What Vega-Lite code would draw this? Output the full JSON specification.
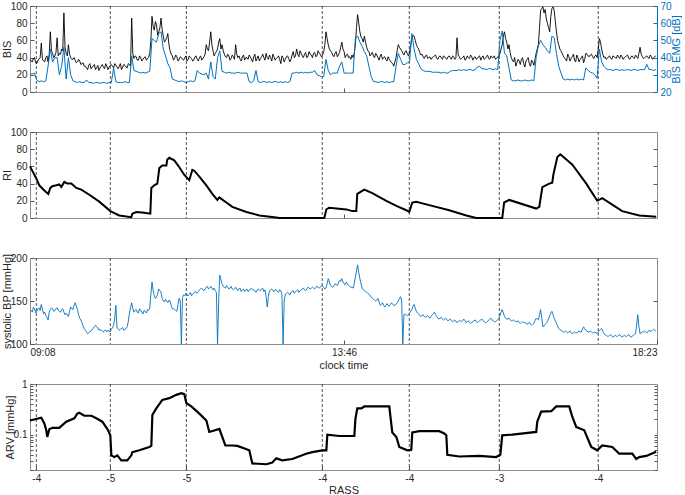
{
"$schema":"https://vega.github.io/schema/vega-lite/v6.json",
"padding":{"left":0,"top":0,"right":0,"bottom":0},
"background":"white",
"config":{
 "font":"Liberation Sans",
 "view":{"stroke":"#8c8c8c","strokeWidth":1},
 "axis":{"labelFont":"Liberation Sans","labelFontSize":10,"labelColor":"#262626","titleFont":"Liberation Sans","titleFontSize":11,"titleFontWeight":"normal","titleColor":"#262626","domain":false,"grid":false,"tickColor":"#555555","tickSize":-4,"labelPadding":7,"labelOverlap":false},
 "axisX":{"titlePadding":1},
 "axisY":{"titlePadding":-2}
},
"datasets":{
"rass":[{"t":5.6,"r":-4},{"t":71.1,"r":-5},{"t":138.4,"r":-5},{"t":258.7,"r":-4},{"t":335.7,"r":-4},{"t":415.4,"r":-3},{"t":503,"r":-4}],
"s":[
{"t":0,"b":38,"e":30.5,"p":140},{"t":2,"b":35,"e":30.5,"p":137},{"t":4,"b":40,"e":31,"p":141},{"t":6,"b":33,"e":27,"p":138},{"t":8,"b":38,"e":26,"p":142},{"t":10,"b":57,"e":26.5,"p":146},{"t":12,"b":36,"e":26,"p":135},{"t":14,"b":40,"e":26.5,"p":133},{"t":16,"b":35,"e":35,"p":128},{"t":18,"b":70,"e":45,"p":140},
{"t":20,"b":45,"e":37.5,"p":141},{"t":22,"b":42,"e":40,"p":139},{"t":24,"b":63,"e":40,"p":142},{"t":26,"b":45,"e":30,"p":138},{"t":28,"b":50,"e":35,"p":140},{"t":30,"b":92,"e":46,"p":137},{"t":32,"b":45,"e":27.5,"p":136},{"t":34,"b":55,"e":40,"p":132},{"t":36,"b":40,"e":30,"p":143},{"t":38,"b":38,"e":26.5,"p":140},
{"t":40,"b":37,"e":26,"p":148},{"t":42,"b":35,"e":25.5,"p":140},{"t":44,"b":36,"e":26,"p":130},{"t":46,"b":33,"e":25.5,"p":125},{"t":48,"b":30,"e":25.5,"p":118},{"t":50,"b":28,"e":27,"p":114},{"t":52,"b":31,"e":25.5,"p":113},{"t":54,"b":27,"e":25.5,"p":115},{"t":56,"b":30,"e":25,"p":118},{"t":58,"b":26,"e":25.5,"p":122},
{"t":60,"b":31,"e":25.5,"p":119},{"t":62,"b":28,"e":25,"p":117},{"t":64,"b":32,"e":25.5,"p":115},{"t":66,"b":27,"e":25.5,"p":116},{"t":68,"b":30,"e":25,"p":114},{"t":70,"b":29,"e":25.5,"p":115},{"t":72,"b":32,"e":25.5,"p":117},{"t":74,"b":28,"e":34,"p":122},{"t":76,"b":31,"e":26,"p":145},{"t":78,"b":27,"e":25.5,"p":118},
{"t":80,"b":33,"e":25.5,"p":117},{"t":82,"b":29,"e":25.5,"p":119},{"t":84,"b":31,"e":26,"p":117},{"t":86,"b":28,"e":25.5,"p":120},{"t":88,"b":32,"e":25.5,"p":136},{"t":90,"b":86,"e":41,"p":148},{"t":92,"b":39,"e":32.5,"p":137},{"t":94,"b":41,"e":32,"p":140},{"t":96,"b":37,"e":31.5,"p":136},{"t":98,"b":40,"e":31,"p":139},
{"t":100,"b":38,"e":31.5,"p":135},{"t":102,"b":41,"e":31,"p":138},{"t":104,"b":39,"e":31.5,"p":140},{"t":106,"b":45,"e":32,"p":142},{"t":108,"b":88,"e":51,"p":172},{"t":110,"b":72,"e":50,"p":156},{"t":112,"b":78,"e":49,"p":155},{"t":114,"b":70,"e":54,"p":164},{"t":116,"b":86,"e":55,"p":160},{"t":118,"b":65,"e":45,"p":150},
{"t":120,"b":60,"e":41,"p":152},{"t":122,"b":68,"e":36.5,"p":148},{"t":124,"b":48,"e":34,"p":150},{"t":126,"b":42,"e":27.5,"p":141},{"t":128,"b":39,"e":27,"p":140},{"t":130,"b":41,"e":26.5,"p":138},{"t":132,"b":38,"e":26,"p":153},{"t":134,"b":40,"e":26.5,"p":100},{"t":136,"b":37,"e":26,"p":157},{"t":138,"b":42,"e":25.5,"p":159},
{"t":140,"b":38,"e":26,"p":156},{"t":142,"b":40,"e":26.5,"p":160},{"t":144,"b":36,"e":26,"p":158},{"t":146,"b":41,"e":26.5,"p":161},{"t":148,"b":38,"e":32.5,"p":159},{"t":150,"b":40,"e":31,"p":163},{"t":152,"b":37,"e":30.5,"p":165},{"t":154,"b":41,"e":30,"p":162},{"t":156,"b":55,"e":31,"p":166},{"t":158,"b":48,"e":27.5,"p":164},
{"t":160,"b":70,"e":37.5,"p":167},{"t":162,"b":48,"e":29,"p":163},{"t":164,"b":45,"e":27.5,"p":162},{"t":166,"b":50,"e":40,"p":100},{"t":168,"b":62,"e":44,"p":180},{"t":170,"b":55,"e":32,"p":170},{"t":172,"b":44,"e":31.5,"p":166},{"t":174,"b":40,"e":31,"p":168},{"t":176,"b":42,"e":31.5,"p":164},{"t":178,"b":39,"e":31,"p":167},
{"t":180,"b":41,"e":31,"p":163},{"t":182,"b":55,"e":31,"p":166},{"t":184,"b":40,"e":31.5,"p":162},{"t":186,"b":38,"e":31,"p":165},{"t":188,"b":41,"e":31,"p":163},{"t":190,"b":37,"e":31,"p":161},{"t":192,"b":40,"e":31,"p":164},{"t":194,"b":43,"e":26,"p":162},{"t":196,"b":38,"e":25.5,"p":165},{"t":198,"b":41,"e":26.5,"p":163},
{"t":200,"b":36,"e":32.5,"p":160},{"t":202,"b":42,"e":26,"p":164},{"t":204,"b":39,"e":25.5,"p":162},{"t":206,"b":44,"e":26,"p":165},{"t":208,"b":37,"e":26,"p":163},{"t":210,"b":40,"e":25.5,"p":143},{"t":212,"b":43,"e":26,"p":162},{"t":214,"b":36,"e":25.5,"p":164},{"t":216,"b":41,"e":26,"p":161},{"t":218,"b":39,"e":26,"p":163},
{"t":220,"b":42,"e":25.5,"p":160},{"t":222,"b":33,"e":26,"p":162},{"t":224,"b":40,"e":25.5,"p":100},{"t":226,"b":38,"e":26,"p":158},{"t":228,"b":42,"e":25.5,"p":160},{"t":230,"b":35,"e":26,"p":157},{"t":232,"b":43,"e":31,"p":161},{"t":234,"b":40,"e":31,"p":159},{"t":236,"b":50,"e":31.5,"p":162},{"t":238,"b":41,"e":31,"p":160},
{"t":240,"b":45,"e":31.5,"p":163},{"t":242,"b":40,"e":31,"p":165},{"t":244,"b":46,"e":31.5,"p":162},{"t":246,"b":41,"e":31,"p":166},{"t":248,"b":44,"e":31.5,"p":164},{"t":250,"b":40,"e":31.5,"p":166},{"t":252,"b":46,"e":32.5,"p":164},{"t":254,"b":42,"e":30,"p":167},{"t":256,"b":45,"e":29.5,"p":165},{"t":258,"b":41,"e":29,"p":168},
{"t":260,"b":47,"e":29,"p":166},{"t":262,"b":70,"e":39,"p":165},{"t":264,"b":55,"e":32.5,"p":176},{"t":266,"b":48,"e":30,"p":168},{"t":268,"b":43,"e":31,"p":166},{"t":270,"b":45,"e":31,"p":170},{"t":272,"b":41,"e":31,"p":168},{"t":274,"b":46,"e":35,"p":174},{"t":276,"b":58,"e":37.5,"p":176},{"t":278,"b":47,"e":31,"p":170},
{"t":280,"b":43,"e":31,"p":172},{"t":282,"b":40,"e":31,"p":168},{"t":284,"b":38,"e":31,"p":166},{"t":286,"b":40,"e":31,"p":165},{"t":288,"b":55,"e":51,"p":178},{"t":290,"b":90,"e":52.5,"p":192},{"t":292,"b":70,"e":49,"p":176},{"t":294,"b":62,"e":46.5,"p":165},{"t":296,"b":65,"e":43.5,"p":162},{"t":298,"b":52,"e":41,"p":160},
{"t":300,"b":47,"e":35,"p":158},{"t":302,"b":44,"e":29,"p":155},{"t":304,"b":42,"e":26,"p":152},{"t":306,"b":45,"e":26,"p":150},{"t":308,"b":40,"e":25.5,"p":153},{"t":310,"b":42,"e":26,"p":145},{"t":312,"b":38,"e":26,"p":148},{"t":314,"b":41,"e":25.5,"p":143},{"t":316,"b":36,"e":26,"p":147},{"t":318,"b":38,"e":25.5,"p":144},
{"t":320,"b":34,"e":26,"p":148},{"t":322,"b":30,"e":26,"p":145},{"t":324,"b":40,"e":35,"p":146},{"t":326,"b":55,"e":42.5,"p":150},{"t":328,"b":50,"e":39,"p":155},{"t":330,"b":45,"e":36,"p":100},{"t":332,"b":47,"e":36,"p":135},{"t":334,"b":44,"e":37,"p":133},{"t":336,"b":46,"e":37.5,"p":136},{"t":338,"b":62,"e":54,"p":140},
{"t":340,"b":65,"e":45,"p":146},{"t":342,"b":55,"e":39,"p":138},{"t":344,"b":50,"e":36.5,"p":135},{"t":346,"b":43,"e":33.5,"p":132},{"t":348,"b":41,"e":32.5,"p":134},{"t":350,"b":42,"e":32,"p":131},{"t":352,"b":39,"e":32,"p":133},{"t":354,"b":41,"e":32,"p":130},{"t":356,"b":40,"e":31.5,"p":134},{"t":358,"b":42,"e":31.5,"p":137},
{"t":360,"b":39,"e":31.5,"p":132},{"t":362,"b":41,"e":31.5,"p":129},{"t":364,"b":40,"e":31,"p":131},{"t":366,"b":42,"e":31.5,"p":128},{"t":368,"b":39,"e":31,"p":130},{"t":370,"b":41,"e":31,"p":127},{"t":372,"b":40,"e":32,"p":129},{"t":374,"b":42,"e":32.5,"p":126},{"t":376,"b":38,"e":32.5,"p":128},{"t":378,"b":63,"e":32.5,"p":125},
{"t":380,"b":41,"e":33,"p":127},{"t":382,"b":39,"e":32.5,"p":126},{"t":384,"b":42,"e":33,"p":129},{"t":386,"b":38,"e":32.5,"p":125},{"t":388,"b":40,"e":33,"p":127},{"t":390,"b":43,"e":33,"p":124},{"t":392,"b":37,"e":32.5,"p":126},{"t":394,"b":41,"e":33,"p":128},{"t":396,"b":39,"e":34.5,"p":125},{"t":398,"b":42,"e":35,"p":127},
{"t":400,"b":40,"e":33.5,"p":129},{"t":402,"b":38,"e":33.5,"p":126},{"t":404,"b":41,"e":33,"p":125},{"t":406,"b":39,"e":33.5,"p":128},{"t":408,"b":42,"e":33.5,"p":130},{"t":410,"b":40,"e":33,"p":127},{"t":412,"b":38,"e":33.5,"p":126},{"t":414,"b":41,"e":33,"p":128},{"t":416,"b":45,"e":50,"p":133},{"t":418,"b":55,"e":55.5,"p":140},
{"t":420,"b":70,"e":42.5,"p":132},{"t":422,"b":58,"e":41,"p":129},{"t":424,"b":55,"e":34,"p":130},{"t":426,"b":40,"e":27,"p":127},{"t":428,"b":35,"e":26.5,"p":128},{"t":430,"b":30,"e":26.5,"p":126},{"t":432,"b":38,"e":27,"p":127},{"t":434,"b":32,"e":26.5,"p":124},{"t":436,"b":40,"e":26.5,"p":126},{"t":438,"b":29,"e":27,"p":125},
{"t":440,"b":38,"e":26.5,"p":123},{"t":442,"b":33,"e":26.5,"p":125},{"t":444,"b":37,"e":27,"p":122},{"t":446,"b":31,"e":26.5,"p":124},{"t":448,"b":45,"e":40,"p":130},{"t":450,"b":55,"e":47,"p":128},{"t":452,"b":95,"e":50,"p":140},{"t":454,"b":99,"e":47.5,"p":120},{"t":456,"b":96,"e":46,"p":123},{"t":458,"b":80,"e":44,"p":126},
{"t":460,"b":70,"e":42.5,"p":133},{"t":462,"b":97,"e":52.5,"p":138},{"t":464,"b":95,"e":51.5,"p":130},{"t":466,"b":70,"e":42.5,"p":124},{"t":468,"b":55,"e":35,"p":118},{"t":470,"b":48,"e":31,"p":116},{"t":472,"b":42,"e":27.5,"p":114},{"t":474,"b":38,"e":27,"p":115},{"t":476,"b":44,"e":27.5,"p":113},{"t":478,"b":36,"e":27,"p":115},
{"t":480,"b":41,"e":27.5,"p":112},{"t":482,"b":37,"e":27,"p":114},{"t":484,"b":43,"e":27.5,"p":113},{"t":486,"b":35,"e":27,"p":115},{"t":488,"b":40,"e":27.5,"p":114},{"t":490,"b":34,"e":27,"p":120},{"t":492,"b":45,"e":34,"p":116},{"t":494,"b":42,"e":32.5,"p":114},{"t":496,"b":43,"e":31.5,"p":115},{"t":498,"b":41,"e":31,"p":113},
{"t":500,"b":42,"e":30,"p":114},{"t":502,"b":40,"e":28,"p":112},{"t":504,"b":62,"e":45,"p":116},{"t":506,"b":50,"e":37.5,"p":118},{"t":508,"b":40,"e":35,"p":112},{"t":510,"b":38,"e":33.5,"p":110},{"t":512,"b":41,"e":33,"p":109},{"t":514,"b":39,"e":33,"p":111},{"t":516,"b":42,"e":32.5,"p":108},{"t":518,"b":40,"e":33,"p":110},
{"t":520,"b":43,"e":33,"p":109},{"t":522,"b":39,"e":32.5,"p":111},{"t":524,"b":41,"e":33,"p":108},{"t":526,"b":40,"e":32.5,"p":110},{"t":528,"b":42,"e":33,"p":109},{"t":530,"b":39,"e":33,"p":111},{"t":532,"b":41,"e":32.5,"p":108},{"t":534,"b":40,"e":33,"p":110},{"t":536,"b":43,"e":33,"p":112},{"t":538,"b":39,"e":32.5,"p":134},
{"t":540,"b":52,"e":33,"p":112},{"t":542,"b":41,"e":33,"p":114},{"t":544,"b":40,"e":33,"p":115},{"t":546,"b":42,"e":36,"p":113},{"t":548,"b":39,"e":33,"p":116},{"t":550,"b":41,"e":33,"p":115},{"t":552,"b":40,"e":32.5,"p":117},{"t":554,"b":42,"e":33,"p":115},
{"t":1,"b":36,"p":139},{"t":3,"b":39,"p":143},{"t":5,"b":34,"p":136},{"t":7,"b":37,"p":141},{"t":9,"b":40,"p":139},{"t":11,"b":38,"p":140},{"t":13,"b":35,"p":137},{"t":15,"b":42,"p":131},{"t":17,"b":44,"p":137},{"t":19,"b":48,"p":142},
{"t":21,"b":40,"p":138},{"t":23,"b":46,"p":141},{"t":25,"b":42,"p":139},{"t":27,"b":44,"p":137},{"t":29,"b":48,"p":141},{"t":31,"b":52,"p":134},{"t":33,"b":42,"p":134},{"t":35,"b":44,"p":138},{"t":37,"b":38,"p":141},{"t":39,"b":40,"p":145},
{"t":41,"b":34,"p":144},{"t":43,"b":38,"p":134},{"t":45,"b":32,"p":128},{"t":47,"b":34,"p":121},{"t":49,"b":30,"p":116},{"t":51,"b":26,"p":112},{"t":53,"b":33,"p":114},{"t":55,"b":29,"p":117},{"t":57,"b":32,"p":120},{"t":59,"b":28,"p":120},
{"t":61,"b":25,"p":116},{"t":63,"b":30,"p":116},{"t":65,"b":29,"p":114},{"t":67,"b":33,"p":116},{"t":69,"b":26,"p":116},{"t":71,"b":31,"p":114},{"t":73,"b":30,"p":119},{"t":75,"b":33,"p":130},{"t":77,"b":29,"p":119},{"t":79,"b":30,"p":116},
{"t":81,"b":26,"p":118},{"t":83,"b":32,"p":116},{"t":85,"b":29,"p":118},{"t":87,"b":33,"p":126},{"t":89,"b":30,"p":142},{"t":91,"b":45,"p":141},{"t":93,"b":42,"p":139},{"t":95,"b":37,"p":137},{"t":97,"b":42,"p":141},{"t":99,"b":36,"p":137},
{"t":101,"b":40,"p":139},{"t":103,"b":37,"p":136},{"t":105,"b":40,"p":139},{"t":107,"b":60,"p":158},{"t":109,"b":76,"p":162},{"t":111,"b":82,"p":153},{"t":113,"b":66,"p":158},{"t":115,"b":75,"p":162},{"t":117,"b":72,"p":153},{"t":119,"b":58,"p":149},
{"t":121,"b":63,"p":150},{"t":123,"b":55,"p":151},{"t":125,"b":44,"p":145},{"t":127,"b":37,"p":141},{"t":129,"b":43,"p":139},{"t":131,"b":36,"p":146},{"t":133,"b":41,"p":150},{"t":135,"b":38,"p":154},{"t":137,"b":40,"p":156},{"t":139,"b":36,"p":157},
{"t":141,"b":42,"p":158},{"t":143,"b":39,"p":156},{"t":145,"b":37,"p":159},{"t":147,"b":42,"p":160},{"t":149,"b":36,"p":161},{"t":151,"b":42,"p":164},{"t":153,"b":39,"p":163},{"t":155,"b":44,"p":164},{"t":157,"b":50,"p":167},{"t":159,"b":58,"p":165},
{"t":161,"b":55,"p":165},{"t":163,"b":42,"p":165},{"t":165,"b":47,"p":160},{"t":167,"b":58,"p":150},{"t":169,"b":50,"p":175},{"t":171,"b":48,"p":167},{"t":173,"b":41,"p":165},{"t":175,"b":44,"p":166},{"t":177,"b":37,"p":165},{"t":179,"b":43,"p":164},
{"t":181,"b":38,"p":164},{"t":183,"b":44,"p":164},{"t":185,"b":42,"p":164},{"t":187,"b":36,"p":161},{"t":189,"b":43,"p":164},{"t":191,"b":40,"p":163},{"t":193,"b":38,"p":161},{"t":195,"b":41,"p":164},{"t":197,"b":35,"p":163},{"t":199,"b":44,"p":162},
{"t":201,"b":39,"p":162},{"t":203,"b":36,"p":163},{"t":205,"b":41,"p":164},{"t":207,"b":40,"p":161},{"t":209,"b":45,"p":155},{"t":211,"b":38,"p":155},{"t":213,"b":40,"p":163},{"t":215,"b":44,"p":162},{"t":217,"b":37,"p":163},{"t":219,"b":40,"p":161},
{"t":221,"b":38,"p":163},{"t":223,"b":42,"p":158},{"t":225,"b":35,"p":150},{"t":227,"b":41,"p":159},{"t":229,"b":39,"p":159},{"t":231,"b":38,"p":160},{"t":233,"b":47,"p":162},{"t":235,"b":42,"p":161},{"t":237,"b":44,"p":163},{"t":239,"b":48,"p":162},
{"t":241,"b":42,"p":164},{"t":243,"b":44,"p":163},{"t":245,"b":40,"p":164},{"t":247,"b":47,"p":165},{"t":249,"b":43,"p":165},{"t":251,"b":45,"p":165},{"t":253,"b":41,"p":166},{"t":255,"b":48,"p":166},{"t":257,"b":44,"p":166},{"t":259,"b":43,"p":167},
{"t":261,"b":55,"p":164},{"t":263,"b":62,"p":170},{"t":265,"b":50,"p":172},{"t":267,"b":46,"p":167},{"t":269,"b":41,"p":168},{"t":271,"b":47,"p":169},{"t":273,"b":43,"p":171},{"t":275,"b":52,"p":173},{"t":277,"b":50,"p":172},{"t":279,"b":40,"p":169},
{"t":281,"b":44,"p":170},{"t":283,"b":41,"p":167},{"t":285,"b":43,"p":166},{"t":287,"b":45,"p":170},{"t":289,"b":75,"p":185},{"t":291,"b":80,"p":183},{"t":293,"b":64,"p":170},{"t":295,"b":58,"p":163},{"t":297,"b":58,"p":161},{"t":299,"b":48,"p":159},
{"t":301,"b":42,"p":156},{"t":303,"b":46,"p":153},{"t":305,"b":40,"p":151},{"t":307,"b":43,"p":151},{"t":309,"b":37,"p":149},{"t":311,"b":44,"p":146},{"t":313,"b":40,"p":145},{"t":315,"b":38,"p":145},{"t":317,"b":41,"p":145},{"t":319,"b":36,"p":146},
{"t":321,"b":33,"p":146},{"t":323,"b":35,"p":145},{"t":325,"b":48,"p":148},{"t":327,"b":52,"p":153},{"t":329,"b":48,"p":150},{"t":331,"b":43,"p":134},{"t":333,"b":48,"p":134},{"t":335,"b":42,"p":134},{"t":337,"b":55,"p":138},{"t":339,"b":66,"p":144},
{"t":341,"b":60,"p":142},{"t":343,"b":52,"p":136},{"t":345,"b":46,"p":133},{"t":347,"b":44,"p":133},{"t":349,"b":39,"p":132},{"t":351,"b":43,"p":132},{"t":353,"b":40,"p":131},{"t":355,"b":38,"p":132},{"t":357,"b":41,"p":135},{"t":359,"b":43,"p":134},
{"t":361,"b":38,"p":130},{"t":363,"b":42,"p":130},{"t":365,"b":38,"p":129},{"t":367,"b":41,"p":129},{"t":369,"b":38,"p":128},{"t":371,"b":42,"p":128},{"t":373,"b":38,"p":127},{"t":375,"b":41,"p":127},{"t":377,"b":40,"p":126},{"t":379,"b":43,"p":126},
{"t":381,"b":38,"p":127},{"t":383,"b":40,"p":127},{"t":385,"b":37,"p":127},{"t":387,"b":42,"p":126},{"t":389,"b":39,"p":125},{"t":391,"b":41,"p":125},{"t":393,"b":40,"p":127},{"t":395,"b":38,"p":126},{"t":397,"b":41,"p":126},{"t":399,"b":37,"p":128},
{"t":401,"b":42,"p":127},{"t":403,"b":39,"p":125},{"t":405,"b":43,"p":126},{"t":407,"b":38,"p":129},{"t":409,"b":40,"p":128},{"t":411,"b":42,"p":126},{"t":413,"b":39,"p":127},{"t":415,"b":41,"p":130},{"t":417,"b":50,"p":137},{"t":419,"b":65,"p":136},
{"t":421,"b":62,"p":130},{"t":423,"b":50,"p":129},{"t":425,"b":46,"p":128},{"t":427,"b":37,"p":127},{"t":429,"b":40,"p":127},{"t":431,"b":34,"p":126},{"t":433,"b":36,"p":125},{"t":435,"b":38,"p":125},{"t":437,"b":33,"p":125},{"t":439,"b":36,"p":124},
{"t":441,"b":40,"p":124},{"t":443,"b":30,"p":123},{"t":445,"b":35,"p":123},{"t":447,"b":38,"p":127},{"t":449,"b":50,"p":129},{"t":451,"b":75,"p":134},{"t":453,"b":97,"p":130},{"t":455,"b":92,"p":121},{"t":457,"b":85,"p":124},{"t":459,"b":75,"p":129},
{"t":461,"b":88,"p":136},{"t":463,"b":99,"p":134},{"t":465,"b":82,"p":127},{"t":467,"b":60,"p":121},{"t":469,"b":50,"p":117},{"t":471,"b":45,"p":115},{"t":473,"b":40,"p":114},{"t":475,"b":36,"p":114},{"t":477,"b":41,"p":114},{"t":479,"b":39,"p":113},
{"t":481,"b":44,"p":113},{"t":483,"b":35,"p":113},{"t":485,"b":40,"p":114},{"t":487,"b":38,"p":114},{"t":489,"b":42,"p":117},{"t":491,"b":38,"p":118},{"t":493,"b":44,"p":115},{"t":495,"b":41,"p":114},{"t":497,"b":44,"p":114},{"t":499,"b":39,"p":113},
{"t":501,"b":43,"p":113},{"t":503,"b":50,"p":114},{"t":505,"b":58,"p":117},{"t":507,"b":44,"p":115},{"t":509,"b":41,"p":111},{"t":511,"b":39,"p":109},{"t":513,"b":42,"p":110},{"t":515,"b":38,"p":109},{"t":517,"b":41,"p":109},{"t":519,"b":39,"p":109},
{"t":521,"b":41,"p":110},{"t":523,"b":43,"p":109},{"t":525,"b":38,"p":109},{"t":527,"b":41,"p":109},{"t":529,"b":43,"p":110},{"t":531,"b":38,"p":109},{"t":533,"b":42,"p":109},{"t":535,"b":39,"p":111},{"t":537,"b":41,"p":122},{"t":539,"b":45,"p":120},
{"t":541,"b":44,"p":113},{"t":543,"b":39,"p":114},{"t":545,"b":41,"p":114},{"t":547,"b":40,"p":114},{"t":549,"b":43,"p":115},{"t":551,"b":38,"p":116},{"t":553,"b":41,"p":116}
],
"ri":[
{"t":0,"v":60},{"t":5.6,"v":46},{"t":8.2,"v":38},{"t":12.7,"v":32},{"t":16.2,"v":28},{"t":18,"v":35},{"t":19.7,"v":37},{"t":23.3,"v":38},{"t":25.9,"v":39},{"t":27.7,"v":36},{"t":30.4,"v":42},{"t":33,"v":40},{"t":36.6,"v":40},{"t":41,"v":35},{"t":45.4,"v":33},{"t":52.5,"v":27},{"t":61.3,"v":19},{"t":71.1,"v":8},{"t":79,"v":3},{"t":89.7,"v":1},{"t":90.6,"v":5},{"t":94.1,"v":7},{"t":101.2,"v":6},{"t":106.5,"v":5},{"t":107.4,"v":35},{"t":110,"v":38},{"t":112.7,"v":40},{"t":114.5,"v":58},{"t":117.1,"v":61},{"t":120.7,"v":61},{"t":121.5,"v":68},{"t":123.3,"v":70},{"t":127.7,"v":67},{"t":132.2,"v":59},{"t":136.6,"v":50},{"t":141,"v":44},{"t":143.7,"v":56},{"t":145.4,"v":55},{"t":149.9,"v":48},{"t":156.1,"v":38},{"t":161.4,"v":28},{"t":165.8,"v":21},{"t":167.6,"v":24},{"t":173.8,"v":18},{"t":179.1,"v":13},{"t":191.5,"v":7},{"t":203,"v":3},{"t":218,"v":0.5},{"t":220.7,"v":0},{"t":260.5,"v":0},{"t":262.3,"v":10},{"t":264.9,"v":12},{"t":280,"v":10},{"t":285.3,"v":8},{"t":288.8,"v":8},{"t":289.7,"v":28},{"t":295.9,"v":33},{"t":303,"v":29},{"t":315.4,"v":20},{"t":324.3,"v":14},{"t":333.1,"v":9},{"t":335.7,"v":7},{"t":338.4,"v":18},{"t":341.9,"v":19},{"t":353.4,"v":15},{"t":371.1,"v":9},{"t":386.2,"v":3},{"t":395,"v":0},{"t":418,"v":0},{"t":419.7,"v":18},{"t":424.2,"v":21},{"t":448.1,"v":11},{"t":450.8,"v":13},{"t":453.5,"v":36},{"t":459.6,"v":40},{"t":462.3,"v":41},{"t":463.2,"v":50},{"t":466.8,"v":71},{"t":469.4,"v":74},{"t":480.1,"v":62},{"t":492.4,"v":40},{"t":502.1,"v":20},{"t":506.5,"v":23},{"t":524.2,"v":8},{"t":539.3,"v":3},{"t":554.3,"v":1.5}
],
"arv":[
{"t":0,"v":0.19},{"t":10,"v":0.215},{"t":12.7,"v":0.166},{"t":14.4,"v":0.122},{"t":15.3,"v":0.09},{"t":17.1,"v":0.128},{"t":19.7,"v":0.136},{"t":25.9,"v":0.136},{"t":32.1,"v":0.18},{"t":39.2,"v":0.21},{"t":41.9,"v":0.26},{"t":43.6,"v":0.27},{"t":48.1,"v":0.236},{"t":54.3,"v":0.236},{"t":58.7,"v":0.21},{"t":64,"v":0.18},{"t":68.4,"v":0.13},{"t":71.1,"v":0.097},{"t":72,"v":0.039},{"t":74.6,"v":0.036},{"t":77.3,"v":0.039},{"t":80.8,"v":0.031},{"t":86.1,"v":0.031},{"t":89.7,"v":0.039},{"t":90.6,"v":0.045},{"t":96.8,"v":0.049},{"t":105.6,"v":0.057},{"t":107.4,"v":0.06},{"t":108.3,"v":0.244},{"t":111.8,"v":0.33},{"t":117.1,"v":0.486},{"t":123.3,"v":0.525},{"t":129.5,"v":0.61},{"t":134,"v":0.66},{"t":136.6,"v":0.63},{"t":138.4,"v":0.42},{"t":142.8,"v":0.36},{"t":149.9,"v":0.26},{"t":156.1,"v":0.19},{"t":158.7,"v":0.113},{"t":167.6,"v":0.13},{"t":172.9,"v":0.061},{"t":179.1,"v":0.061},{"t":183.6,"v":0.06},{"t":194.1,"v":0.049},{"t":196.8,"v":0.027},{"t":209.2,"v":0.026},{"t":214.5,"v":0.028},{"t":218,"v":0.034},{"t":223.3,"v":0.031},{"t":232.2,"v":0.033},{"t":244.5,"v":0.042},{"t":249.9,"v":0.045},{"t":258.7,"v":0.049},{"t":262.3,"v":0.049},{"t":263.2,"v":0.1},{"t":273.8,"v":0.094},{"t":287.1,"v":0.094},{"t":288,"v":0.2},{"t":289.7,"v":0.33},{"t":293.3,"v":0.33},{"t":295.9,"v":0.36},{"t":318,"v":0.36},{"t":320.7,"v":0.11},{"t":324.3,"v":0.09},{"t":326.9,"v":0.057},{"t":334,"v":0.049},{"t":337.5,"v":0.05},{"t":338.4,"v":0.11},{"t":344.6,"v":0.117},{"t":362.3,"v":0.117},{"t":366.7,"v":0.105},{"t":368.5,"v":0.097},{"t":369.4,"v":0.04},{"t":380,"v":0.037},{"t":397.7,"v":0.038},{"t":412.7,"v":0.036},{"t":416.3,"v":0.04},{"t":418,"v":0.097},{"t":426.9,"v":0.1},{"t":448.1,"v":0.113},{"t":449,"v":0.18},{"t":452.5,"v":0.284},{"t":461.4,"v":0.29},{"t":465.8,"v":0.36},{"t":477.3,"v":0.36},{"t":480,"v":0.226},{"t":483.5,"v":0.142},{"t":490.6,"v":0.122},{"t":496.8,"v":0.057},{"t":502.1,"v":0.049},{"t":506.5,"v":0.061},{"t":515.4,"v":0.057},{"t":521.6,"v":0.042},{"t":533.1,"v":0.042},{"t":536.6,"v":0.033},{"t":539.3,"v":0.036},{"t":545.5,"v":0.038},{"t":554.3,"v":0.046}
]
},
"spacing":40,
"bounds":"flush",
"vconcat":[
{
 "width":627,"height":86,
 "encoding":{"x":{"field":"t","type":"quantitative","scale":{"domain":[0,555],"nice":false,"zero":false},"axis":{"values":[278],"labels":false,"title":null}}},
 "layer":[
  {"data":{"name":"rass"},"mark":{"type":"rule","color":"#262626","strokeDash":[3,2],"strokeWidth":0.8}},
  {"data":{"name":"s"},"mark":{"type":"line","color":"black","strokeWidth":0.9},
   "encoding":{"y":{"field":"b","type":"quantitative","scale":{"domain":[0,100],"nice":false},"axis":{"orient":"left","title":"BIS","values":[0,20,40,60,80,100]}}}},
  {"data":{"name":"s"},"transform":[{"filter":"isValid(datum.e)"}],"mark":{"type":"line","color":"#0072BD","strokeWidth":1},
   "encoding":{"y":{"field":"e","type":"quantitative","scale":{"domain":[20,70],"nice":false,"zero":false},"axis":{"orient":"right","title":"BIS EMG [dB]","values":[20,30,40,50,60,70],"labelColor":"#0072BD","titleColor":"#0072BD","tickColor":"#0072BD","domain":true,"domainColor":"#0072BD","titleAngle":270,"titleBaseline":"top","titlePadding":-1}}}}
 ],
 "resolve":{"scale":{"y":"independent"}}
},
{
 "width":627,"height":86,
 "encoding":{"x":{"field":"t","type":"quantitative","scale":{"domain":[0,555],"nice":false,"zero":false},"axis":{"values":[278],"labels":false,"title":null}}},
 "layer":[
  {"data":{"name":"rass"},"mark":{"type":"rule","color":"#262626","strokeDash":[3,2],"strokeWidth":0.8}},
  {"data":{"name":"ri"},"mark":{"type":"line","color":"black","strokeWidth":2},
   "encoding":{"y":{"field":"v","type":"quantitative","scale":{"domain":[0,100],"nice":false},"axis":{"title":"RI","values":[0,20,40,60,80,100]}}}},
  {"data":{"name":"ri"},"mark":{"type":"line","opacity":0},
   "encoding":{"y":{"field":"v","type":"quantitative","scale":{"domain":[0,100],"nice":false},"axis":{"orient":"right","values":[20,40,60,80],"labels":false,"title":null}}}}
 ],
 "resolve":{"axis":{"y":"independent"}}
},
{
 "width":627,"height":86,
 "encoding":{"x":{"field":"t","type":"quantitative","scale":{"domain":[0,555],"nice":false,"zero":false},"axis":{"values":[0,278,555],"title":"clock time","titlePadding":2,"labelExpr":"datum.value == 0 ? '09:08' : datum.value == 278 ? '13:46' : '18:23'"}}},
 "layer":[
  {"data":{"name":"rass"},"mark":{"type":"rule","color":"#262626","strokeDash":[3,2],"strokeWidth":0.8}},
  {"data":{"name":"s"},"mark":{"type":"line","color":"#0072BD","strokeWidth":0.9},
   "encoding":{"y":{"field":"p","type":"quantitative","scale":{"domain":[100,200],"nice":false,"zero":false},"axis":{"title":"systolic BP [mmHg]","values":[100,150,200]}}}},
  {"data":{"name":"s"},"mark":{"type":"line","opacity":0},
   "encoding":{"y":{"field":"p","type":"quantitative","scale":{"domain":[100,200],"nice":false,"zero":false},"axis":{"orient":"right","values":[150],"labels":false,"title":null}}}}
 ],
 "resolve":{"axis":{"y":"independent"}}
},
{
 "width":627,"height":86,
 "encoding":{"x":{"field":"t","type":"quantitative","scale":{"domain":[0,555],"nice":false,"zero":false},"axis":{"values":[5.6,71.1,138.4,258.7,335.7,415.4,503],"title":"RASS","labelExpr":"datum.value < 30 ? '-4' : datum.value < 200 ? '-5' : datum.value < 400 ? '-4' : datum.value < 450 ? '-3' : '-4'"}}},
 "layer":[
  {"data":{"name":"rass"},"mark":{"type":"rule","color":"#262626","strokeDash":[3,2],"strokeWidth":0.8}},
  {"data":{"name":"arv"},"mark":{"type":"line","color":"black","strokeWidth":2.2},
   "encoding":{"y":{"field":"v","type":"quantitative","scale":{"type":"log","domain":[0.02,1],"nice":false},"axis":{"title":"ARV [mmHg]","values":[0.02,0.03,0.04,0.05,0.06,0.07,0.08,0.09,0.1,0.2,0.3,0.4,0.5,0.6,0.7,0.8,0.9,1],"tickSize":-3,"labelPadding":6,"labelExpr":"datum.value == 1 ? '1' : datum.value == 0.1 ? '0.1' : ''"}}}},
  {"data":{"name":"arv"},"mark":{"type":"line","opacity":0},
   "encoding":{"y":{"field":"v","type":"quantitative","scale":{"type":"log","domain":[0.02,1],"nice":false},"axis":{"orient":"right","values":[0.02,0.03,0.04,0.05,0.06,0.07,0.08,0.09,0.1,0.2,0.3,0.4,0.5,0.6,0.7,0.8,0.9],"tickSize":-3,"labels":false,"title":null}}}}
 ],
 "resolve":{"axis":{"y":"independent"}}
}
]
}
